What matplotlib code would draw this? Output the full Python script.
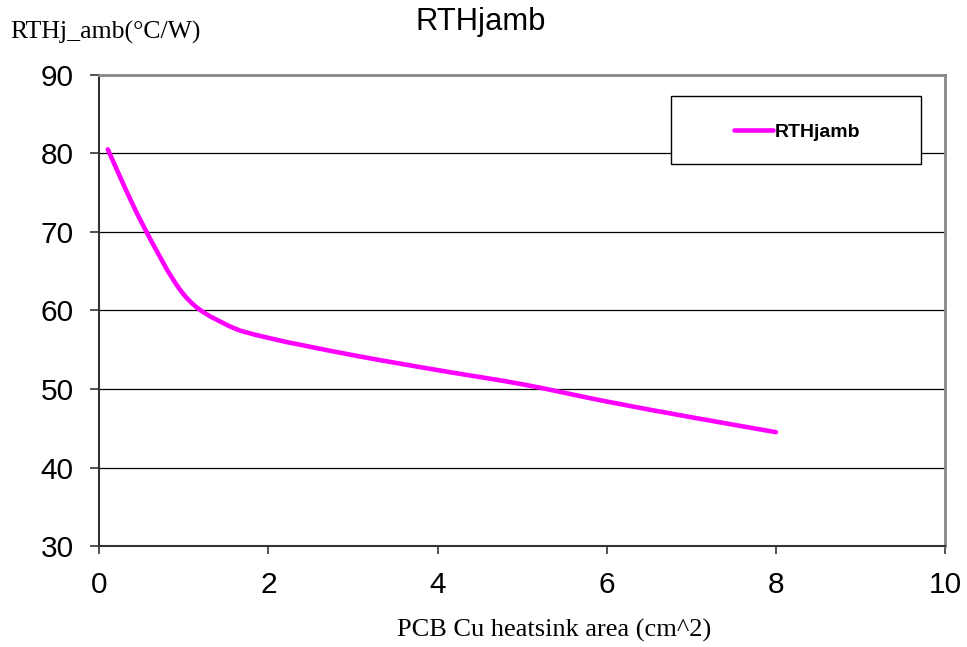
import matplotlib.pyplot as plt
from matplotlib.path import Path
from matplotlib.patches import PathPatch, Rectangle
from matplotlib.lines import Line2D

# values
area_cm2 = [0.1, 0.5, 1.0, 1.5, 2.0, 3.0, 4.0, 5.0, 6.0, 7.0, 8.0]
rth_jamb = [80.5, 71.2, 62.0, 58.2, 56.5, 54.3, 52.4, 50.6, 48.4, 46.4, 44.5]

x_ticks = [0, 2, 4, 6, 8, 10]
y_ticks = [30, 40, 50, 60, 70, 80, 90]

line_color = "#FF00FF"


def smooth_path(xs, ys):
    """Bezier path through the points, like a spreadsheet 'smoothed line'."""
    n = len(xs)
    verts = [(xs[0], ys[0])]
    codes = [Path.MOVETO]
    for i in range(n - 1):
        x0, y0 = xs[max(i - 1, 0)], ys[max(i - 1, 0)]
        x1, y1 = xs[i], ys[i]
        x2, y2 = xs[i + 1], ys[i + 1]
        x3, y3 = xs[min(i + 2, n - 1)], ys[min(i + 2, n - 1)]
        c1 = (x1 + (x2 - x0) / 6, y1 + (y2 - y0) / 6)
        c2 = (x2 - (x3 - x1) / 6, y2 - (y3 - y1) / 6)
        verts += [c1, c2, (x2, y2)]
        codes += [Path.CURVE4] * 3
    return Path(verts, codes)


fig = plt.figure(figsize=(9.67, 6.47), dpi=100)
ax = fig.add_axes([0.1027, 0.156, 0.8746, 0.7285])

ax.set_xlim(0, 10)
ax.set_ylim(30, 90)
ax.set_xticks(x_ticks)
ax.set_yticks(y_ticks)
ax.tick_params(direction="out", width=1.2, color="#333333", labelsize=21.5)
ax.tick_params(axis="y", length=6.5, pad=12)
ax.tick_params(axis="x", length=6, pad=12)
for lab in ax.get_xticklabels() + ax.get_yticklabels():
    lab.set_family("Liberation Sans")

ax.yaxis.grid(True, color="black", linewidth=0.9)
ax.set_axisbelow(True)

ax.spines["left"].set_color("#333333")
ax.spines["bottom"].set_color("#333333")
ax.spines["left"].set_linewidth(1.5)
ax.spines["bottom"].set_linewidth(1.5)
ax.spines["top"].set_color("#888888")
ax.spines["right"].set_color("#888888")
ax.spines["top"].set_linewidth(2)
ax.spines["right"].set_linewidth(2)

curve = PathPatch(smooth_path(area_cm2, rth_jamb), facecolor="none",
                  edgecolor=line_color, linewidth=3.3, capstyle="round",
                  zorder=3)
ax.add_patch(curve)

# legend box
ax.add_patch(Rectangle((0.676, 0.8105), 0.2956, 0.1445, transform=ax.transAxes,
                       facecolor="white", edgecolor="black", linewidth=1,
                       zorder=4))
handle = Line2D([], [], color=line_color, linewidth=3.3, solid_capstyle="round")
leg = ax.legend([handle], ["RTHjamb"], loc="center",
                bbox_to_anchor=(0.8256, 0.879), frameon=False,
                handlelength=2.0, handletextpad=0.1,
                prop={"family": "Liberation Sans", "weight": "bold", "size": 14})
leg.set_zorder(5)

fig.text(0.4975, 0.9536, "RTHjamb", ha="center", va="baseline",
         family="Liberation Sans", fontsize=22.3)
fig.text(0.011, 0.941, "RTHj_amb(\u00b0C/W)", ha="left", va="baseline",
         family="Liberation Serif", fontsize=18.5)
fig.text(0.573, 0.0155, "PCB Cu heatsink area (cm^2)", ha="center", va="baseline",
         family="Liberation Serif", fontsize=19)

plt.savefig("out.png", dpi=100)
